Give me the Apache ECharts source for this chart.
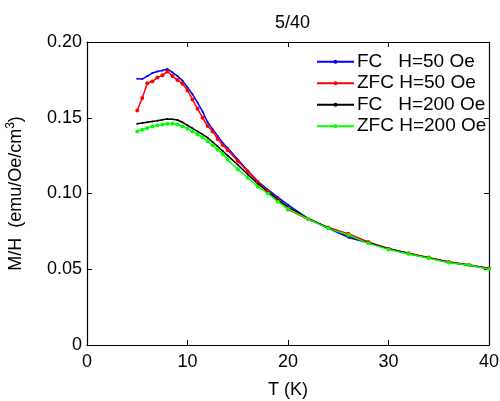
<!DOCTYPE html>
<html>
<head>
<meta charset="utf-8">
<title>5/40</title>
<script src="https://cdn.jsdelivr.net/npm/echarts@6/dist/echarts.min.js"></script>
<style>
  html, body { margin: 0; padding: 0; background: #fff; }
  #main { width: 500px; height: 401px; }
</style>
</head>
<body>
<div id="main"></div>
<script type="text/javascript">
// temperature points (K), shared by all four curves
var temps = [5, 5.5, 6, 6.5, 7, 7.5, 8, 8.5, 9, 9.5, 10, 10.5, 11, 11.5, 12, 12.5, 13, 13.5,
             14, 15, 16, 17, 18, 19, 20, 22, 24, 26, 28, 30, 32, 34, 36, 38, 40];

// M/H values
var fc50 = [0.1757, 0.1755, 0.1775, 0.1795, 0.1805, 0.1812, 0.1822, 0.1800, 0.1775, 0.1745,
            0.1700, 0.1655, 0.1600, 0.1540, 0.1470, 0.1425, 0.1380, 0.1335, 0.1300, 0.1225,
            0.1150, 0.1080, 0.1025, 0.0975, 0.0925, 0.0835, 0.0770, 0.0710, 0.0675, 0.0635,
            0.0605, 0.0575, 0.0548, 0.0528, 0.0505];
var zfc50 = [0.1548, 0.1630, 0.1728, 0.1739, 0.1765, 0.1780, 0.1805, 0.1775, 0.1750, 0.1725,
             0.1680, 0.1620, 0.1560, 0.1500, 0.1445, 0.1410, 0.1360, 0.1320, 0.1285, 0.1215,
             0.1145, 0.1075, 0.1015, 0.0960, 0.0895, 0.0830, 0.0775, 0.0735, 0.0680, 0.0635,
             0.0605, 0.0578, 0.0548, 0.0530, 0.0505];
var fc200 = [0.1460, 0.1465, 0.1470, 0.1475, 0.1480, 0.1487, 0.1491, 0.1490, 0.1485, 0.1470,
             0.1450, 0.1430, 0.1410, 0.1390, 0.1368, 0.1340, 0.1310, 0.1280, 0.1250, 0.1190,
             0.1125, 0.1065, 0.1010, 0.0960, 0.0910, 0.0835, 0.0775, 0.0720, 0.0675, 0.0635,
             0.0603, 0.0575, 0.0546, 0.0527, 0.0503];
var zfc200 = [0.1410, 0.1421, 0.1432, 0.1443, 0.1450, 0.1456, 0.1460, 0.1460, 0.1456, 0.1443,
              0.1428, 0.1410, 0.1390, 0.1372, 0.1345, 0.1318, 0.1290, 0.1260, 0.1222, 0.1160,
              0.1104, 0.1045, 0.1000, 0.0946, 0.0898, 0.0832, 0.0770, 0.0726, 0.0671, 0.0631,
              0.0600, 0.0572, 0.0543, 0.0528, 0.0500];

var names = ['FC   H=50 Oe', 'ZFC H=50 Oe', 'FC   H=200 Oe', 'ZFC H=200 Oe'];
var xTicks = [0, 10, 20, 30, 40];
var yTicks = [0, 0.05, 0.10, 0.15, 0.20];

function pairs(ys) {
    var out = [];
    for (var i = 0; i < temps.length; i++) {
        out.push([temps[i], ys[i]]);
    }
    return out;
}

var font = 'Liberation Sans, Arial, sans-serif';
var myChart = echarts.init(document.getElementById('main'));

function mkSeries(name, ys, color, size) {
    return {
        name: name,
        type: 'line',
        data: pairs(ys),
        symbol: 'circle',
        symbolSize: size,
        showSymbol: true,
        lineStyle: { color: color, width: 1.5 },
        itemStyle: { color: color },
        animation: false
    };
}

// box axes (top / right) carry ticks only
function boxLine() {
    return { show: true, onZero: false, lineStyle: { color: '#000', width: 1.2 } };
}

var option = {
    backgroundColor: '#fff',
    title: {
        text: '5/40',
        left: 270,
        top: 9,
        textStyle: { fontFamily: font, fontSize: 18, fontWeight: 'normal', color: '#000' }
    },
    legend: {
        orient: 'vertical',
        left: 311,
        top: 47,
        itemWidth: 37,
        itemHeight: 5,
        itemGap: 2,
        data: names,
        textStyle: { fontFamily: font, fontSize: 19, color: '#000', lineHeight: 19.5, padding: [0, 0, 0, -2] }
    },
    grid: { left: 87, right: 11, top: 42, bottom: 56, outerBoundsMode: 'none', containLabel: false },
    xAxis: [{
        type: 'value',
        min: xTicks[0],
        max: xTicks[xTicks.length - 1],
        interval: 10,
        name: 'T (K)',
        nameLocation: 'middle',
        nameGap: 36,
        nameTextStyle: { fontFamily: font, fontSize: 18, color: '#000' },
        axisLine: boxLine(),
        axisTick: { inside: true, length: 5, lineStyle: { color: '#000' } },
        axisLabel: { fontFamily: font, fontSize: 18, color: '#000', margin: 8 },
        splitLine: { show: false }
    }, {
        type: 'value',
        position: 'top',
        min: 0, max: 40, interval: 10,
        axisLine: boxLine(),
        axisTick: { inside: true, length: 5, lineStyle: { color: '#000' } },
        axisLabel: { show: false },
        splitLine: { show: false }
    }],
    yAxis: [{
        type: 'value',
        min: yTicks[0],
        max: yTicks[yTicks.length - 1],
        interval: 0.05,
        name: '{a|M/H  (emu/Oe/cm}{s|3}{a|)}',
        nameLocation: 'middle',
        nameGap: 60,
        nameRotate: 90,
        nameTextStyle: {
            fontFamily: font, fontSize: 18, color: '#000',
            rich: {
                a: { fontFamily: font, fontSize: 18, color: '#000' },
                s: { fontFamily: font, fontSize: 12, color: '#000', padding: [0, 0, 10, 0] }
            }
        },
        axisLine: boxLine(),
        axisTick: { inside: true, length: 5, lineStyle: { color: '#000' } },
        axisLabel: {
            fontFamily: font, fontSize: 18, color: '#000', margin: 5,
            formatter: function (v) { return v === 0 ? '0' : v.toFixed(2); }
        },
        splitLine: { show: false }
    }, {
        type: 'value',
        position: 'right',
        min: 0, max: 0.2, interval: 0.05,
        axisLine: boxLine(),
        axisTick: { inside: true, length: 5, lineStyle: { color: '#000' } },
        axisLabel: { show: false },
        splitLine: { show: false }
    }],
    series: [
        mkSeries(names[0], fc50, '#0000ff', 2),
        mkSeries(names[1], zfc50, '#ff0000', 4),
        mkSeries(names[2], fc200, '#000000', 2),
        mkSeries(names[3], zfc200, '#00ff00', 4)
    ]
};

myChart.setOption(option);
</script>
</body>
</html>
